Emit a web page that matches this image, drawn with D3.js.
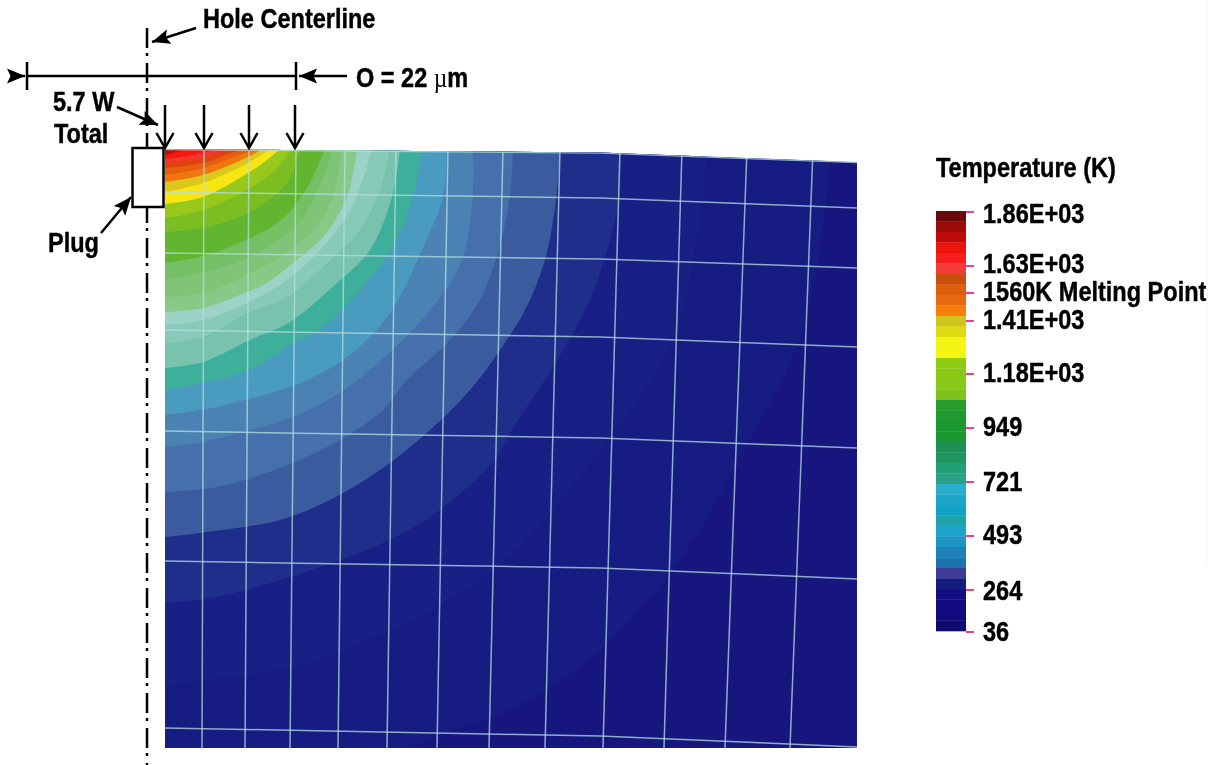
<!DOCTYPE html>
<html>
<head>
<meta charset="utf-8">
<script src="https://cdn.jsdelivr.net/npm/d3@7"></script>
<style>
  html, body { margin: 0; background: #fff; }
  svg { display: block; filter: blur(0.45px); }
  text { font-family: "Liberation Sans", Arial, sans-serif; font-weight: bold; fill: #000; stroke: #000; stroke-width: 0.45px; }
</style>
</head>
<body>
<script>
// temperature colour swatches, top of the legend to the bottom
const legendColors = [
  '#6b0a0a', '#9a0c0a', '#bf0c0a', '#ee120c', '#f81c1c', '#f53a3a', '#c94f0c', '#dc5f0c',
  '#e8690f', '#f87e0e', '#cdc51c', '#dedb10', '#f5f514', '#f5f514', '#8ecc14', '#8aca14',
  '#88c818', '#7fc21c', '#279c2c', '#1f9a30', '#1c9830', '#1c9830', '#1c9055', '#1f9660',
  '#22a075', '#2aa085', '#29aecc', '#1ea6c8', '#11a3c3', '#1da3a8', '#1ea3cc', '#1e96c4',
  '#1e82b8', '#1c74ac', '#3c3c96', '#141c80', '#140f80', '#120a80', '#100a7e', '#0f0a70'
]
const tickTemps = [1860, 1630, 1560, 1410, 1180, 949, 721, 493, 264, 36]
const tickLabels = ['1.86E+03', '1.63E+03', '1560K Melting Point', '1.41E+03', '1.18E+03',
  '949', '721', '493', '264', '36']

// plate outline in um from the hole centerline / from the top surface
const plateLeft = 1.44
const plateRight = 56.8
const plateBottom = 47.92

// mesh
const meshTopX = [4.56, 8.16, 11.92, 15.84, 19.92, 24.08, 28.48, 33.04, 37.84, 42.8, 48, 53.28]
const meshBottomX = [4.4, 7.84, 11.44, 15.28, 19.2, 23.2, 27.36, 31.84, 36.48, 41.36, 46.24, 51.44]
const meshMidStation = 36.24
const meshRowLeft = [0, 3.44, 8.32, 14.48, 22.56, 32.96, 46.32]
const meshRowMid = [0.28, 3.92, 8.8, 15.04, 23.12, 33.52, 46.96]
const meshRowRight = [1.04, 4.72, 9.52, 15.84, 23.92, 34.4, 47.84]

// isotherm colours, coolest first, with each outer edge as [um across, um deep]
const plateColor = '#16167e'
const bandColors = [
  '#161c82', '#181f85', '#1f2d8b', '#3a5c9f', '#4570ac', '#4a83b3', '#4a9bc0', '#3eaf9a',
  '#78c2ae', '#88cab8', '#9dd3c6', '#87c987', '#80c477', '#75c064', '#62b52e', '#7cbe22',
  '#98c81a', '#f7e614', '#dcc81a', '#f2760f', '#e55f0e', '#e0440e', '#f5352e', '#f3190f',
  '#b80e0c', '#7d0a0a'
]
const bandEdges = [
  [[1.44, 52.4], [12.24, 51.28], [23.44, 46.88], [30.64, 44.08], [36.24, 40.08], [43.44, 31.68], [48.48, 22.72], [51.68, 16.64], [53.6, 9.44], [54.64, 1.04], [54.8, -0.72]],
  [[1.44, 42.8], [12.24, 41.28], [20.24, 38.08], [28.24, 33.28], [37.28, 22.72], [41.84, 15.84], [44, 7.28], [44.8, 0.64], [44.88, -0.72]],
  [[1.44, 36.32], [5.6, 35.84], [11.44, 34.24], [18.88, 31.52], [23.44, 28.88], [28, 24.64], [29.04, 22.72], [32.48, 17.44], [35.44, 12.08], [37.04, 7.28], [37.84, 3.52], [37.92, 0]],
  [[1.44, 31.04], [4.24, 30.72], [10.64, 29.68], [14.64, 28.08], [18.64, 25.68], [22.64, 22.48], [25.84, 19.28], [28.24, 16.08], [30.24, 12.88], [31.84, 8.88], [32.72, 4.08], [33.04, 0]],
  [[1.44, 27.44], [5.6, 27.04], [10.88, 25.44], [15.44, 23.28], [18.88, 20.88], [20.8, 18.48], [24.24, 15.28], [26.64, 12.08], [28.24, 7.68], [29.04, 3.68], [29.28, 0]],
  [[1.44, 23.84], [4.48, 23.44], [8.24, 22.48], [11.68, 21.44], [14.88, 19.84], [17.84, 17.68], [21.84, 13.84], [25.04, 9.28], [26, 4.48], [26.08, 0]],
  [[1.44, 21.28], [5.6, 20.64], [10.64, 19.28], [12.8, 18.48], [16.24, 16.48], [19.44, 13.12], [22.24, 7.52], [23.68, 3.84], [24, 0]],
  [[1.44, 19.28], [4.48, 18.72], [8.24, 17.68], [11.68, 15.52], [13.84, 14.48], [17.28, 11.04], [19.68, 7.84], [21.28, 3.84], [22, 0]],
  [[1.44, 17.52], [4.48, 17.04], [8.24, 15.28], [11.44, 13.84], [15.2, 10.72], [17.84, 8.08], [19.6, 3.84], [20.24, 0]],
  [[1.44, 15.52], [4.48, 15.04], [8, 13.12], [11.2, 11.84], [14.4, 9.12], [17.04, 6.48], [18.64, 3.28], [19.44, 0]],
  [[1.44, 14.08], [4.48, 13.68], [8, 12.32], [11.2, 10.48], [14.08, 7.84], [16.24, 4.88], [17.44, 1.92], [18, 0]],
  [[1.44, 13.04], [4.48, 12.72], [8, 11.44], [9.6, 10.72], [11.68, 9.12], [14.08, 7.04], [16, 3.84], [16.8, 0]],
  [[1.44, 11.84], [4.48, 11.52], [8, 10.08], [11.44, 8.08], [13.84, 5.84], [15.04, 3.28], [15.6, 0]],
  [[1.44, 10.48], [4.64, 9.84], [8.24, 8.64], [11.04, 6.88], [12.64, 5.28], [14, 2.48], [14.88, 0]],
  [[1.44, 9.12], [4.8, 8.48], [8.24, 7.12], [10.4, 5.92], [12, 4.32], [13.28, 2.24], [14.24, 0]],
  [[1.44, 6.64], [4.48, 6.32], [8.24, 5.04], [11.2, 2.72], [12.24, 0]],
  [[1.44, 5.52], [4.48, 4.88], [8.24, 3.12], [10.24, 1.68], [11.6, 0]],
  [[1.44, 4.4], [4.48, 3.84], [8.08, 1.92], [9.6, 0.88], [10.64, 0]],
  [[1.44, 3.44], [4.48, 2.72], [8.08, 1.12], [9.84, 0]],
  [[1.44, 2.64], [4.48, 2.08], [8.08, 0.64], [9.2, 0]],
  [[1.44, 2.08], [4.48, 1.52], [7.44, 0.48], [8.64, 0]],
  [[1.44, 1.52], [4.48, 1.12], [7.44, 0.08], [8.08, 0]],
  [[1.44, 1.12], [4.24, 0.72], [6.88, 0]],
  [[1.44, 0.8], [3.6, 0.5], [5.6, 0]],
  [[1.44, 0.48], [3.2, 0]],
  [[1.44, 0.16], [1.9, 0]]
]

const svg = d3.select('body').append('svg')
  .attr('width', 1218)
  .attr('height', 765)

const xScale = d3.scaleLinear().domain([0, plateRight]).range([147, 857])
const yScale = d3.scaleLinear().domain([0, plateBottom]).range([149, 748])
const line = d3.line().x(d => xScale(d[0])).y(d => yScale(d[1]))
const edge = d3.line().x(d => xScale(d[0])).y(d => yScale(d[1])).curve(d3.curveCatmullRom.alpha(0.5))

// plate, clipped so the isotherms can run past the edges
const plateOutline = [
  [plateLeft, meshRowLeft[0]], [meshMidStation, meshRowMid[0]], [plateRight, meshRowRight[0]],
  [plateRight, plateBottom], [plateLeft, plateBottom]
]
svg.append('clipPath').attr('id', 'plate-clip')
  .append('path').attr('d', line(plateOutline) + 'Z')

const plate = svg.append('g').attr('clip-path', 'url(#plate-clip)')

plate.append('path')
  .attr('d', line(plateOutline) + 'Z')
  .attr('fill', plateColor)

plate.selectAll('path.band')
  .data(bandEdges)
  .join('path')
  .attr('class', 'band')
  .attr('d', d => `${edge(d)}L${xScale(plateLeft)},${yScale(-0.72)}Z`)
  .attr('fill', (d, i) => bandColors[i])

// mesh
const meshColor = '#b4dfe2'
plate.selectAll('path.col')
  .data(meshTopX)
  .join('path')
  .attr('class', 'col')
  .attr('d', (d, i) => line([[d, 0], [meshBottomX[i], plateBottom]]))
  .attr('fill', 'none')
  .attr('stroke', meshColor)
  .attr('stroke-opacity', 0.75)
  .attr('stroke-width', 1.5)

plate.selectAll('path.row')
  .data(meshRowLeft)
  .join('path')
  .attr('class', 'row')
  .attr('d', (d, i) => line([[plateLeft, d], [meshMidStation, meshRowMid[i]], [plateRight, meshRowRight[i]]]))
  .attr('fill', 'none')
  .attr('stroke', meshColor)
  .attr('stroke-opacity', 0.75)
  .attr('stroke-width', (d, i) => i === 0 ? 2.5 : 1.5)

// legend
const legendBand = d3.scaleBand()
  .domain(d3.range(legendColors.length))
  .range([211, 631])

svg.selectAll('rect.swatch')
  .data(legendColors)
  .join('rect')
  .attr('class', 'swatch')
  .attr('x', 936)
  .attr('width', 30)
  .attr('y', (d, i) => legendBand(i))
  .attr('height', legendBand.bandwidth() + 0.3)
  .attr('fill', d => d)

// the ticks are not spaced evenly in the original, so a piecewise scale
const tempY = d3.scaleLinear()
  .domain(tickTemps)
  .range([212, 266, 293, 321, 374, 428, 482, 536, 590, 632])
const labelY = d3.scaleOrdinal()
  .domain(tickTemps)
  .range([223, 273, 301, 329, 382, 436, 491, 544, 600, 641])

svg.selectAll('line.tick')
  .data(tickTemps)
  .join('line')
  .attr('class', 'tick')
  .attr('x1', 966)
  .attr('x2', 974)
  .attr('y1', d => tempY(d))
  .attr('y2', d => tempY(d))
  .attr('stroke', '#e8409a')
  .attr('stroke-width', 2)

// original lettering is narrow and tall
function label(x, y, str, size = 27.5) {
  return svg.append('text')
    .attr('transform', `translate(${x},${y}) scale(0.855,1)`)
    .attr('font-size', size)
    .text(str)
}

tickTemps.forEach((t, i) => label(983, labelY(t), tickLabels[i]))
label(936, 177, 'Temperature (K)')

svg.append('line')
  .attr('x1', 1207).attr('x2', 1207).attr('y1', 0).attr('y2', 565)
  .attr('stroke', '#f3f5ec').attr('stroke-width', 1)

// annotations
const defs = svg.append('defs')
defs.append('marker')
  .attr('id', 'head')
  .attr('markerUnits', 'userSpaceOnUse')
  .attr('viewBox', '-1 -9 20 18')
  .attr('refX', 18).attr('refY', 0)
  .attr('markerWidth', 20).attr('markerHeight', 18)
  .attr('orient', 'auto')
  .append('path')
  .attr('d', 'M0,-7.5 L18,0 L0,7.5 L3.5,0 Z')
  .attr('fill', '#000')

function seg(x1, y1, x2, y2, width = 2.5) {
  return svg.append('line')
    .attr('x1', x1).attr('y1', y1).attr('x2', x2).attr('y2', y2)
    .attr('stroke', '#000').attr('stroke-width', width)
}

// centerline
seg(147, 28, 147, 765).attr('stroke-dasharray', '20 5 3 7')

// dimension line
seg(27, 76, 296, 76)
seg(27, 62, 27, 90)
seg(296, 62, 296, 90)
seg(11, 76, 25, 76).attr('marker-end', 'url(#head)')
seg(347, 76, 299, 76).attr('marker-end', 'url(#head)')

// leaders
seg(196, 28, 152, 42).attr('marker-end', 'url(#head)')
seg(117, 107, 158, 125).attr('marker-end', 'url(#head)')
seg(101, 233, 131, 197).attr('marker-end', 'url(#head)')

// heat flux arrows
;[165, 204, 249, 295].forEach(x => {
  seg(x, 105, x, 148)
  svg.append('path')
    .attr('d', `M${x - 8.5},133 L${x},148 L${x + 8.5},133`)
    .attr('fill', 'none').attr('stroke', '#000').attr('stroke-width', 2.5)
})

// plug
svg.append('rect')
  .attr('x', 132.5).attr('y', 148).attr('width', 31).attr('height', 59)
  .attr('fill', '#fff').attr('stroke', '#000').attr('stroke-width', 2.5)

label(203, 28, 'Hole Centerline')
label(53, 111, '5.7 W')
label(54, 143, 'Total')
label(48, 252, 'Plug')

const dim = label(356, 87, 'O = 22 ')
dim.append('tspan')
  .style('font-family', '"Liberation Serif", serif')
  .style('font-weight', 'normal')
  .style('stroke-width', '0px')
  .text('\u00b5')
dim.append('tspan').text('m')
</script>
</body>
</html>
